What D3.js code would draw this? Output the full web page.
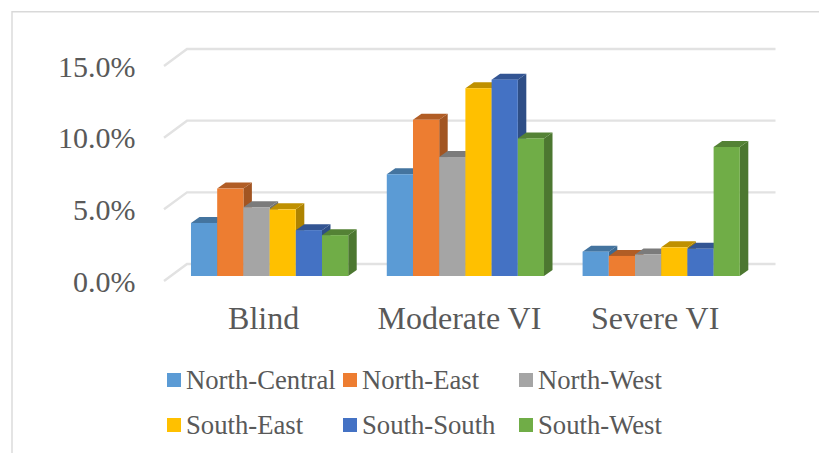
<!DOCTYPE html>
<html>
<head>
<meta charset="utf-8">
<script src="https://cdn.jsdelivr.net/npm/d3@7"></script>
<style>
html, body { margin: 0; padding: 0; background: #fff; }
svg { display: block; }
text { font-family: "Liberation Serif", serif; fill: #595959; }
</style>
</head>
<body>
<svg id="chart" width="819" height="453"></svg>
<script>
// Prevalence of visual impairment by region (%)
const categories = ["Blind", "Moderate VI", "Severe VI"];
const regions = ["North-Central", "North-East", "North-West", "South-East", "South-South", "South-West"];
const blind = [3.7, 6.1, 4.8, 4.65, 3.2, 2.85];
const moderateVI = [7.1, 10.9, 8.3, 13.1, 13.7, 9.6];
const severeVI = [1.7, 1.4, 1.5, 2.0, 1.9, 9.0];
const seriesByCategory = [blind, moderateVI, severeVI];
const yTicks = [0, 5, 10, 15];

const frontColors = ["#5b9bd5", "#ed7d31", "#a5a5a5", "#ffc000", "#4472c4", "#70ad47"];
const topColors = ["#44749f", "#b15d25", "#7b7b7b", "#bf9000", "#335593", "#548235"];
const sideColors = ["#3d6a91", "#a25522", "#717171", "#ae8300", "#2e4e86", "#4c7730"];

const svg = d3.select("#chart");

// Frame around the chart area
svg.append("path")
  .attr("d", "M12,453V11.75H819")
  .attr("fill", "none").attr("stroke", "#d9d9d9").attr("stroke-width", 1.4);

// Projection of the 3-D box: wall gridlines sit up and to the right of the floor edge
const floorDepth = { dx: 23, dy: -17 };
const barDepth = { dx: 8.5, dy: -6 };
const y = d3.scaleLinear().domain([0, 15]).range([276, 61]);
const wallOffset = -12;

const x0 = d3.scaleBand().domain(categories).range([171.7, 759.1]).paddingInner(0.197).paddingOuter(0.0985);
const x1 = d3.scaleBand().domain(regions).range([0, x0.bandwidth()]);

// Gridlines with their slanted floor/wall return
const grid = svg.append("g").attr("fill", "none").attr("stroke", "#e2e2e2").attr("stroke-width", 2.4);
yTicks.forEach(t => {
  const yb = y(t) + wallOffset;
  grid.append("path")
    .attr("d", `M775.5,${yb}H187L164,${yb - floorDepth.dy}`);
});

// Value axis labels
const yAxis = svg.append("g");
yTicks.forEach(t => {
  yAxis.append("text")
    .attr("x", 135.5).attr("y", y(t) + wallOffset - floorDepth.dy + 10.5)
    .attr("text-anchor", "end").attr("font-size", 30)
    .text(d3.format(".1f")(t) + "%");
});

// Bars, each drawn as front, top and side faces
categories.forEach((cat, c) => {
  const g = svg.append("g");
  regions.forEach((reg, i) => {
    const v = seriesByCategory[c][i];
    const xl = x0(cat) + x1(reg);
    const xr = xl + x1.bandwidth();
    const yt = y(v), yb = y(0);
    const d = barDepth;
    g.append("path")
      .attr("d", `M${xr},${yb}L${xr + d.dx},${yb + d.dy}V${yt + d.dy}L${xr},${yt}Z`)
      .attr("fill", sideColors[i]);
    g.append("path")
      .attr("d", `M${xl},${yt}L${xl + d.dx},${yt + d.dy}H${xr + d.dx}L${xr},${yt}Z`)
      .attr("fill", topColors[i]);
    g.append("rect")
      .attr("x", xl).attr("y", yt)
      .attr("width", x1.bandwidth()).attr("height", yb - yt)
      .attr("fill", frontColors[i]);
  });
  // Category label
  svg.append("text")
    .attr("x", x0(cat) + x0.bandwidth() / 2 - 6).attr("y", 329)
    .attr("text-anchor", "middle").attr("font-size", 32)
    .text(cat);
});

// Legend: two rows of three
const legendCols = [167, 343, 519];
const legendRows = [380, 425];
const legend = svg.append("g");
regions.forEach((reg, i) => {
  const lx = legendCols[i % 3], ly = legendRows[Math.floor(i / 3)];
  legend.append("rect")
    .attr("x", lx).attr("y", ly - 7).attr("width", 14).attr("height", 14)
    .attr("fill", frontColors[i]);
  legend.append("text")
    .attr("x", lx + 19).attr("y", ly + 8.5)
    .attr("font-size", 26.7)
    .text(reg);
});
</script>
</body>
</html>
